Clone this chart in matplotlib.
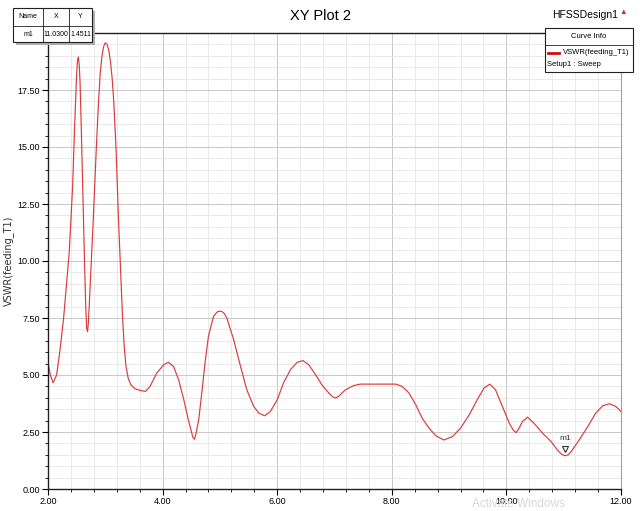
import matplotlib
matplotlib.use("Agg")
import matplotlib.pyplot as plt
from matplotlib.ticker import MultipleLocator, FormatStrFormatter, FixedLocator
from matplotlib.patches import Rectangle
from matplotlib.lines import Line2D
from matplotlib.transforms import offset_copy

plt.rcParams["font.family"] = ["Liberation Sans Narrow", "Liberation Sans", "DejaVu Sans"]

W, H = 640, 511

# VSWR(feeding_T1)
freq = [2.00, 2.04, 2.09, 2.15, 2.21, 2.27, 2.32, 2.37, 2.43, 2.46, 2.48, 2.50, 2.515,
        2.53, 2.545, 2.56, 2.58, 2.61, 2.64, 2.66, 2.675, 2.69, 2.705, 2.73, 2.79, 2.84,
        2.88, 2.91, 2.94, 2.97, 3.00, 3.03, 3.06, 3.09, 3.12, 3.15, 3.19, 3.23, 3.27,
        3.30, 3.33, 3.36, 3.40, 3.45, 3.52, 3.61, 3.70, 3.78, 3.90, 4.02, 4.10, 4.19,
        4.28, 4.37, 4.45, 4.50, 4.53, 4.555, 4.58, 4.63, 4.69, 4.74, 4.80, 4.89, 4.96,
        5.02, 5.07, 5.12, 5.24, 5.36, 5.47, 5.59, 5.68, 5.78, 5.88, 6.00, 6.11, 6.23,
        6.35, 6.45, 6.55, 6.67, 6.78, 6.90, 6.97, 7.02, 7.08, 7.19, 7.34, 7.45, 7.70,
        7.95, 8.07, 8.18, 8.30, 8.42, 8.53, 8.65, 8.77, 8.91, 9.06, 9.20, 9.35, 9.49,
        9.61, 9.71, 9.81, 9.93, 10.05, 10.12, 10.17, 10.22, 10.28, 10.37, 10.48, 10.63,
        10.78, 10.89, 10.96, 11.02, 11.08, 11.13, 11.27, 11.42, 11.56, 11.68, 11.80,
        11.91, 12.00]
vswr = [5.55, 5.00, 4.66, 5.00, 6.10, 7.43, 8.90, 10.36, 13.29, 15.60, 16.90, 18.20, 18.80,
        18.95, 18.60, 17.80, 15.90, 12.80, 9.70, 7.90, 7.05, 6.90, 7.30, 8.60, 11.83, 14.76,
        16.90, 18.20, 18.95, 19.40, 19.57, 19.50, 19.25, 18.75, 18.00, 16.90, 14.76, 11.83, 9.40,
        7.60, 6.25, 5.40, 4.85, 4.55, 4.40, 4.32, 4.28, 4.50, 5.09, 5.45, 5.56, 5.38,
        4.79, 3.91, 3.03, 2.55, 2.25, 2.18, 2.40, 3.03, 4.35, 5.53, 6.70, 7.58, 7.78,
        7.80, 7.72, 7.51, 6.55, 5.38, 4.35, 3.62, 3.33, 3.21, 3.40, 3.91, 4.65, 5.23,
        5.56, 5.63, 5.45, 5.01, 4.57, 4.21, 4.04, 3.99, 4.08, 4.35, 4.54, 4.60, 4.60,
        4.60, 4.60, 4.50, 4.21, 3.69, 3.11, 2.67, 2.33, 2.15, 2.30, 2.67, 3.25, 3.91,
        4.43, 4.60, 4.35, 3.62, 2.89, 2.58, 2.47, 2.66, 2.96, 3.15, 2.89, 2.45,
        2.08, 1.71, 1.53, 1.46, 1.50, 1.64, 2.15, 2.74, 3.33, 3.65, 3.74,
        3.62, 3.40]

m1_x, m1_y = 11.03, 1.4511
x_ticks = [2.0, 4.0, 6.0, 8.0, 10.0, 12.0]
y_ticks = [0.0, 2.5, 5.0, 7.5, 10.0, 12.5, 15.0, 17.5]

RED = "#dc3a3a"


def fx(px):
    return px / W


def fy(py):
    return 1 - py / H


fig = plt.figure(figsize=(6.4, 5.11), dpi=100)
ax = fig.add_axes([fx(48), fy(489), fx(621) - fx(48), fy(33) - fy(489)])

ax.plot(freq, vswr, color=RED, lw=0.85, solid_joinstyle="round")
ax.set_xlim(2, 12)
ax.set_ylim(0, 20)

ax.xaxis.set_major_locator(FixedLocator(x_ticks))
ax.xaxis.set_minor_locator(MultipleLocator(0.4))
ax.yaxis.set_major_locator(FixedLocator(y_ticks))
ax.yaxis.set_minor_locator(MultipleLocator(0.5))
ax.xaxis.set_major_formatter(FormatStrFormatter("%.2f"))
ax.yaxis.set_major_formatter(FormatStrFormatter("%.2f"))
ax.tick_params(which="major", direction="out", length=4, width=0.8, labelsize=6.5, pad=2)
ax.tick_params(which="minor", direction="out", length=2.5, width=0.6)

ax.grid(which="major", color="#c8c8c8", lw=0.7)
ax.grid(which="minor", color="#e6e6e6", lw=0.6)
ax.set_axisbelow(True)

for s in ["left", "bottom", "top"]:
    ax.spines[s].set_color("#202020")
    ax.spines[s].set_linewidth(1.0)
ax.spines["right"].set_color("#a0a0a0")
ax.spines["right"].set_linewidth(0.8)

ax.set_ylabel("VSWR(feeding_T1)", fontsize=7, family=["DejaVu Sans"], color="#303030")
ax.yaxis.set_label_coords((14 - 48) / (621 - 48), 0.5)

# m1 marker
tr = offset_copy(ax.transData, fig=fig, x=0, y=5, units="points")
ax.plot([m1_x], [m1_y], marker="v", ms=5, mfc="white", mec="#303030", mew=0.8,
        transform=tr, clip_on=False)
ax.annotate("m1", (m1_x, m1_y), xytext=(0, 10), textcoords="offset points",
            ha="center", va="bottom", fontsize=6, color="#303030")

# title and design name
fig.text(fx(320), fy(16), "XY Plot 2", ha="center", va="center", fontsize=10.5)
fig.text(fx(585), fy(15), "HFSSDesign1", ha="center", va="center", fontsize=7.5)
fig.text(fx(623), fy(13), "\u25b2", ha="center", va="center", fontsize=5.5, color="#c03030")

# marker table
names = ["Name", "X", "Y"]
vals = ["m1", f"{m1_x:.4f}", f"{m1_y:.4f}"]
cols = [13, 43, 69, 92]
fig.patches.append(Rectangle((fx(16), fy(45)), fx(79), fy(0) - fy(34), transform=fig.transFigure,
                             facecolor="#b0b0b0", edgecolor="none", zorder=4))
fig.patches.append(Rectangle((fx(13), fy(42)), fx(79), fy(0) - fy(34), transform=fig.transFigure,
                             facecolor="white", edgecolor="#202020", lw=0.8, zorder=5))
fig.lines.append(Line2D([fx(13), fx(92)], [fy(26), fy(26)], transform=fig.transFigure,
                        color="#202020", lw=0.6, zorder=6))
for c in cols[1:3]:
    fig.lines.append(Line2D([fx(c), fx(c)], [fy(8), fy(42)], transform=fig.transFigure,
                            color="#202020", lw=0.6, zorder=6))
for i in range(3):
    cx = (cols[i] + cols[i + 1]) / 2
    fig.text(fx(cx), fy(17), names[i], ha="center", va="center", fontsize=5, zorder=7)
    fig.text(fx(cx), fy(34), vals[i], ha="center", va="center", fontsize=5, zorder=7)

# curve info box
fig.patches.append(Rectangle((fx(545), fy(72)), fx(88), fy(0) - fy(44), transform=fig.transFigure,
                             facecolor="white", edgecolor="#202020", lw=0.8, zorder=5))
fig.lines.append(Line2D([fx(545), fx(633)], [fy(45), fy(45)], transform=fig.transFigure,
                        color="#202020", lw=0.6, zorder=6))
fig.text(fx(589), fy(37), "Curve Info", ha="center", va="center", fontsize=5.5, zorder=7)
fig.lines.append(Line2D([fx(548), fx(559)], [fy(53), fy(53)], transform=fig.transFigure,
                        color="#d01010", lw=2, zorder=6))
fig.text(fx(563), fy(53), "VSWR(feeding_T1)", ha="left", va="center", fontsize=5.5, zorder=7)
fig.text(fx(547), fy(65), "Setup1 : Sweep", ha="left", va="center", fontsize=5.5, zorder=7)

fig.text(fx(472), fy(504), "Activate Windows", ha="left", va="center", fontsize=8.5,
         color="#d8d8d8", zorder=0)

fig.savefig("out.png", dpi=100)
